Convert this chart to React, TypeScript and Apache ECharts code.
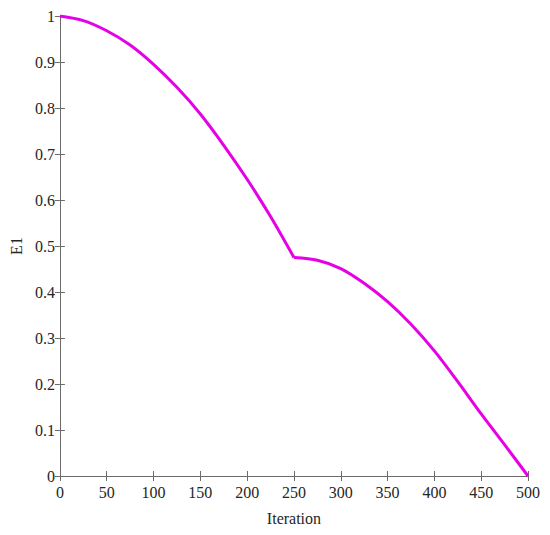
import React, { useEffect, useRef } from "react";
import * as echarts from "echarts";

const xTicks = { min: 0, max: 500, interval: 50 };
const yTicks = { min: 0, max: 1, interval: 0.1 };

const phase1X = [0, 25, 50, 75, 100, 125, 150, 175, 200, 225, 250];
const phase1Y = [1, 0.99, 0.968, 0.937, 0.895, 0.845, 0.787, 0.719, 0.645, 0.564, 0.475];

const phase2X = [250, 275, 300, 325, 350, 375, 400, 425, 450, 475, 500];
const phase2Y = [0.475, 0.469, 0.451, 0.419, 0.379, 0.33, 0.272, 0.205, 0.135, 0.068, 0];

const xName = "Iteration";
const yName = "E1";

const FONT = "Liberation Serif";
const AXIS_COLOR = "#6b6b6b";
const TEXT_COLOR = "#262626";
const LINE_COLOR = "#e600e6";

export default function App() {
  const ref = useRef<HTMLDivElement>(null);

  useEffect(() => {
    if (!ref.current) return;
    const chart = echarts.init(ref.current, undefined, { renderer: "svg" });

    const axisLine = { show: true, lineStyle: { color: AXIS_COLOR, width: 1 } };
    const axisTick = { show: true, inside: true, length: 5, lineStyle: { color: AXIS_COLOR } };
    const axisLabel = { color: TEXT_COLOR, fontFamily: FONT, fontSize: 16 };

    const mk = (xs: number[], ys: number[]) => xs.map((x, i) => [x, ys[i]]);

    chart.setOption({
      animation: false,
      backgroundColor: "#ffffff",
      grid: { left: 58, right: 22, top: 16, bottom: 59, containLabel: false },
      xAxis: [
        {
          type: "value",
          position: "bottom",
          ...xTicks,
          name: xName,
          nameLocation: "middle",
          nameGap: 34,
          nameTextStyle: { color: TEXT_COLOR, fontFamily: FONT, fontSize: 16 },
          axisLine,
          axisTick,
          axisLabel: { ...axisLabel, margin: 8 },
          splitLine: { show: false },
        },
        {
          type: "value",
          position: "top",
          ...xTicks,
          axisLine,
          axisTick,
          axisLabel: { show: false },
          splitLine: { show: false },
        },
      ],
      yAxis: [
        {
          type: "value",
          position: "left",
          ...yTicks,
          name: yName,
          nameLocation: "middle",
          nameGap: 32,
          nameTextStyle: { color: TEXT_COLOR, fontFamily: FONT, fontSize: 16 },
          axisLine,
          axisTick,
          axisLabel: { ...axisLabel, margin: 5 },
          splitLine: { show: false },
        },
        {
          type: "value",
          position: "right",
          ...yTicks,
          axisLine,
          axisTick,
          axisLabel: { show: false },
          splitLine: { show: false },
        },
      ],
      series: [
        {
          type: "line",
          data: mk(phase1X, phase1Y),
          smooth: 0.3,
          showSymbol: false,
          lineStyle: { color: LINE_COLOR, width: 3 },
        },
        {
          type: "line",
          data: mk(phase2X, phase2Y),
          smooth: 0.3,
          showSymbol: false,
          lineStyle: { color: LINE_COLOR, width: 3 },
        },
      ],
    });

    return () => chart.dispose();
  }, []);

  return (
    <div
      ref={ref}
      style={{ position: "absolute", left: 0, top: 0, width: 550, height: 535, background: "#fff" }}
    />
  );
}
